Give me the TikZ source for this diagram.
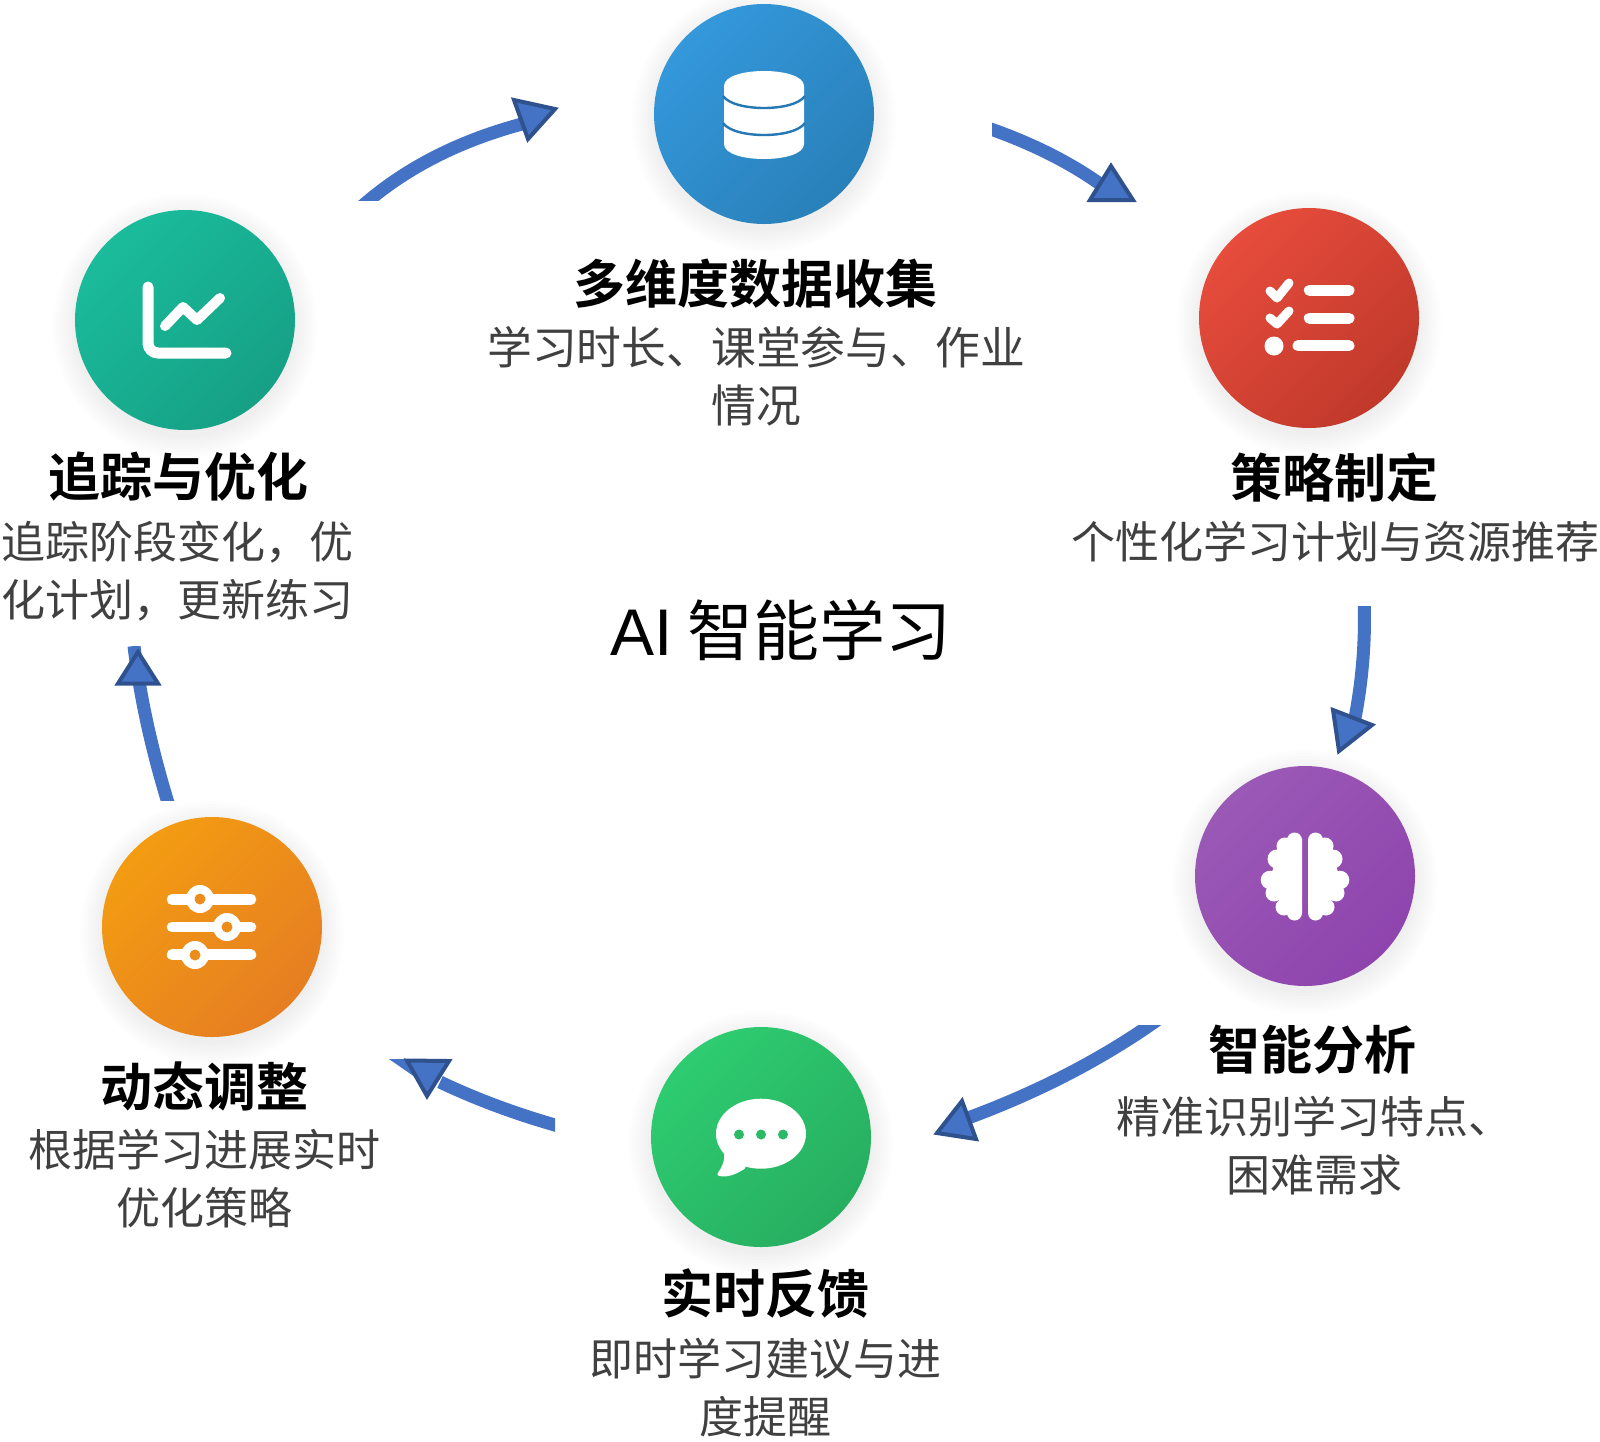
\documentclass[tikz,border=0pt]{standalone}
\usepackage{fontspec}
\setmainfont{Noto Sans CJK SC}[BoldFont={Noto Sans CJK SC Bold}]
\newfontfamily\latinhub{Liberation Sans}
\usetikzlibrary{calc}
\definecolor{shaftc}{HTML}{4472C4}
\definecolor{headc}{HTML}{2F528F}
\definecolor{bodyc}{HTML}{404040}
\definecolor{blueA}{HTML}{3498DB}\definecolor{blueB}{HTML}{2980B9}
\definecolor{redA}{HTML}{E74C3C}\definecolor{redB}{HTML}{C0392B}
\definecolor{purA}{HTML}{9B59B6}\definecolor{purB}{HTML}{8E44AD}
\definecolor{grnA}{HTML}{2ECC71}\definecolor{grnB}{HTML}{27AE60}
\definecolor{orgA}{HTML}{F39C12}\definecolor{orgB}{HTML}{E67E22}
\definecolor{tealA}{HTML}{1ABC9C}\definecolor{tealB}{HTML}{16A085}
\definecolor{blueM}{HTML}{2678B4}\definecolor{grnM}{HTML}{2BBB67}\definecolor{orgM}{HTML}{EC8C1A}
\tikzset{
 x=0.5pt,y=-0.5pt,
 disc/.style 2 args={circle,inner sep=0pt,minimum size=110pt,draw=none,left color=#1,right color=#2,shading angle=45},
 heading/.style={font=\fontsize{26}{29}\selectfont\bfseries,text=black,inner sep=0pt},
 bodytext/.style={font=\fontsize{22}{29}\selectfont,text=bodyc,align=center,inner sep=0pt},
 shaft/.style={draw=shaftc,line width=6.5pt,line cap=butt},
 tiphead/.style={draw=headc,fill=shaftc,line width=2pt,line join=miter},
 ico/.style={draw=white,line cap=round,line join=round},
}
\newcommand{\softshadow}[2]{%
 \foreach \rr in {132,129,126,123,120,117,114,111}{
  \fill[black,opacity=0.008] (#1,#2+6) circle[radius=\rr];
 }}
% quadratic curve from #1 through control #2 to #3
\newcommand{\qcurve}[3]{(#1) .. controls ($(#1)!0.6667!(#2)$) and ($(#3)!0.6667!(#2)$) .. (#3)}
\begin{document}
\begin{tikzpicture}
\useasboundingbox (0,0) rectangle (1600,1441);
\fill[white] (0,0) rectangle (1600,1441);
% shadows
\softshadow{764}{114}\softshadow{1309}{318}\softshadow{1305}{876}
\softshadow{761}{1137}\softshadow{212}{927}\softshadow{185}{320}
% discs
\node[disc={blueA}{blueB}] (data) at (764,114) {};
\node[disc={redA}{redB}] (plan) at (1309,318) {};
\node[disc={purA}{purB}] (brain) at (1305,876) {};
\node[disc={grnA}{grnB}] (chat) at (761,1137) {};
\node[disc={orgA}{orgB}] (tune) at (212,927) {};
\node[disc={tealA}{tealB}] (track) at (185,320) {};
% database icon
\begin{scope}[shift={(data.center)}]
 \fill[white] (-40,-28) .. controls (-40,-48) and (40,-48) .. (40,-28) -- (40,30) .. controls (40,50) and (-40,50) .. (-40,30) -- cycle;
 \draw[draw=blueM,line width=1.2pt] (-41,-18) .. controls (-30,-2) and (30,-2) .. (41,-18);
 \draw[draw=blueM,line width=1.2pt] (-41,9) .. controls (-30,25) and (30,25) .. (41,9);
\end{scope}
% checklist icon
\begin{scope}[shift={(plan.center)}]
 \draw[ico,line width=5.5pt] (0.3,-27.7) -- (40,-27.7);
 \draw[ico,line width=5.5pt] (0.3,0) -- (40,0);
 \draw[ico,line width=5.5pt] (-11,27.7) -- (40,27.7);
 \draw[ico,line width=4.5pt] (-39,-27) -- (-32,-20) -- (-20,-35);
 \draw[ico,line width=4.5pt] (-39,0) -- (-32,6) -- (-20,-7);
 \fill[white] (-35,28) circle[radius=9.5];
\end{scope}
% brain icon
\begin{scope}[shift={(brain.center)}]
 \foreach \sgn in {1,-1}{
  \begin{scope}[xscale=\sgn]
   \fill[white] (-3,-37) -- (-14,-38) -- (-30,-15) -- (-35,4) -- (-30,20) -- (-14,38) -- (-3,37) -- cycle;
   \foreach \cx/\cy/\cr in {-10.5/-36/7.5, -20/-30/8.5, -28/-17/9.5, -35/4/9.3, -31/17/8.5, -21/31/8.5, -10.5/37/7.5}{
    \fill[white] (\cx,\cy) circle[radius=\cr];
   }
  \end{scope}
 }
\end{scope}
% speech icon
\begin{scope}[shift={(chat.center)}]
 \fill[white] (0,-3.3) circle[x radius=45,y radius=35];
 \fill[white,rounded corners=1.5pt] (-37,14) .. controls (-36,24) and (-40,32) .. (-45,38) .. controls (-34,41) and (-24,37) .. (-14,30) -- cycle;
 \foreach \dx in {-22,0,22}{\fill[grnM] (\dx,-2.5) circle[radius=5];}
\end{scope}
% sliders icon
\begin{scope}[shift={(tune.center)}]
 \foreach \yy in {-27.7,0,27.7}{\draw[ico,line width=5.3pt] (-40,\yy) -- (39,\yy);}
 \foreach \kx/\ky in {-12/-28,15/0,-17/28}{
  \fill[white] (\kx,\ky) circle[radius=14];
  \fill[orgM] (\kx,\ky) circle[radius=5.5];
 }
\end{scope}
% chart icon
\begin{scope}[shift={(track.center)}]
 \draw[ico,line width=5.5pt,rounded corners=5pt] (-37,-33) -- (-37,33) -- (41,33);
 \draw[ico,line width=5pt] (-20,6) -- (-2,-13) -- (12,0) -- (35,-22);
\end{scope}
% texts
\node[heading] (t1) at (755,284) {多维度数据收集};
\node[bodytext,font=\fontsize{22.4}{29}\selectfont] (d1) at (756,376) {学习时长、课堂参与、作业\\情况};
\node[heading] (t2) at (1334,477) {策略制定};
\node[bodytext] (d2) at (1335,542) {个性化学习计划与资源推荐};
\node[heading] (t3) at (1312,1050) {智能分析};
\node[bodytext] (d3) at (1314,1146) {精准识别学习特点、\\困难需求};
\node[heading] (t4) at (765,1294) {实时反馈};
\node[bodytext] (d4) at (765,1388) {即时学习建议与进\\度提醒};
\node[heading] (t5) at (204,1086) {动态调整};
\node[bodytext] (d5) at (204,1179) {根据学习进展实时\\优化策略};
\node[heading] (t6) at (178,477) {追踪与优化};
\node[bodytext] (d6) at (178,571) {追踪阶段变化，优\\化计划，更新练习};
\node[font=\fontsize{33}{38}\selectfont,text=black,inner sep=0pt] (hub) at (781,630) {{\latinhub AI} 智能学习};
% arrow anchors
\coordinate (a1s) at (360,208); \coordinate (a1c) at (425,150); \coordinate (a1e) at (522,124);
\coordinate (a2s) at (985,127); \coordinate (a2c) at (1052,150); \coordinate (a2e) at (1100,184);
\coordinate (a3s) at (1364,598); \coordinate (a3c) at (1366.5,658); \coordinate (a3e) at (1355,718);
\coordinate (a4s) at (1160,1018); \coordinate (a4c) at (1076,1078); \coordinate (a4e) at (968,1118);
\coordinate (a5s) at (562,1127); \coordinate (a5c) at (497,1109); \coordinate (a5e) at (440,1082);
\coordinate (a6s) at (169,806); \coordinate (a6c) at (143,722); \coordinate (a6e) at (134,646);
% arrow 1: track -> data
\begin{scope}
 \clip (340,80) rectangle (580,200);
 \draw[shaft] \qcurve{a1s}{a1c}{a1e};
\end{scope}
\draw[tiphead] (514,100) -- (555,109) -- (528,139) -- cycle;
% arrow 2: data -> plan
\begin{scope}
 \clip (992,100) rectangle (1150,215);
 \draw[shaft] \qcurve{a2s}{a2c}{a2e};
\end{scope}
\draw[tiphead] (1111,166) -- (1133,200) -- (1090,200) -- cycle;
% arrow 3: plan -> brain
\begin{scope}
 \clip (1300,606) rectangle (1400,770);
 \draw[shaft] \qcurve{a3s}{a3c}{a3e};
\end{scope}
\draw[tiphead] (1333,710) -- (1372,725) -- (1339,751) -- cycle;
% arrow 4: brain -> chat
\begin{scope}
 \clip (920,1025) rectangle (1180,1160);
 \draw[shaft] \qcurve{a4s}{a4c}{a4e};
\end{scope}
\draw[tiphead] (962,1101) -- (976,1139) -- (937,1133) -- cycle;
% arrow 5: chat -> tune
\begin{scope}
 \clip (380,1040) rectangle (555,1150);
 \draw[shaft] \qcurve{a5s}{a5c}{a5e};
\end{scope}
\fill[shaftc] (389,1059) -- (415,1059) -- (425,1084) -- cycle;
\draw[tiphead] (407,1060.5) -- (449,1061) -- (427,1096) -- cycle;
% arrow 6: tune -> track
\begin{scope}
 \clip (100,646) rectangle (200,800);
 \draw[shaft] \qcurve{a6s}{a6c}{a6e};
\end{scope}
\draw[tiphead] (138,652) -- (158,683.5) -- (118,683.5) -- cycle;
\end{tikzpicture}
\end{document}
